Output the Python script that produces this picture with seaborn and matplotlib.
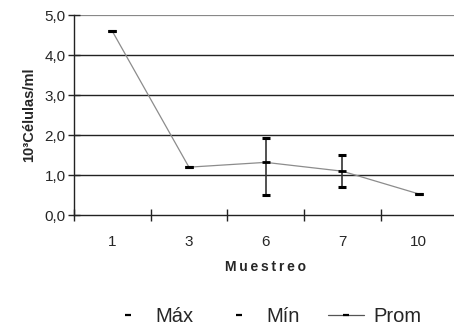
import matplotlib
matplotlib.use("Agg")
import matplotlib.pyplot as plt
from matplotlib.lines import Line2D
import numpy as np
import pandas as pd
import seaborn as sns

# Sampling campaigns and cell counts (10^3 cells/ml)
muestreo = ["1", "3", "6", "7", "10"]
prom = [4.6, 1.2, 1.32, 1.1, 0.53]
maximo = [4.6, 1.2, 1.94, 1.51, 0.53]
minimo = [4.6, 1.2, 0.50, 0.71, 0.53]

df = pd.DataFrame({"pos": np.arange(len(muestreo)), "Muestreo": muestreo,
                   "Prom": prom, "Máx": maximo, "Mín": minimo})

sns.set_theme(style="white")
plt.rcParams["font.family"] = ["Liberation Sans", "DejaVu Sans"]

fig = plt.figure(figsize=(4.54, 3.31), dpi=100)
ax = fig.add_axes([0.163, 0.350, 0.844, 0.604])

# horizontal grid
for yv in [1, 2, 3, 4]:
    ax.axhline(yv, color="#222222", lw=1.0, zorder=0)
ax.axhline(5, color="#888888", lw=1.6, zorder=0)

# high-low bars
ax.vlines(df["pos"], df["Mín"], df["Máx"], color="#333333", lw=1.2, zorder=2)

sns.lineplot(data=df, x="pos", y="Prom", ax=ax, color="#8c8c8c", lw=0.9,
             marker="_", markersize=6, markeredgewidth=2.0,
             markeredgecolor="black", zorder=3, legend=False)
sns.scatterplot(data=df, x="pos", y="Máx", ax=ax, marker="_", s=40,
                linewidth=2.2, color="black", zorder=4, legend=False)
sns.scatterplot(data=df, x="pos", y="Mín", ax=ax, marker="_", s=40,
                linewidth=2.2, color="black", zorder=4, legend=False)

ax.set_xlim(-0.5, len(muestreo) - 0.5)
ax.set_ylim(0, 5)
ax.set_xticks(np.arange(len(muestreo)))
ax.set_xticklabels(muestreo, fontsize=11)
ax.set_xticks(np.arange(len(muestreo) + 1) - 0.5, minor=True)
ax.tick_params(axis="x", which="major", length=0, pad=14)
ax.tick_params(axis="x", which="minor", length=9, width=1, color="#222222",
               direction="inout", bottom=True)
yt = [0, 1, 2, 3, 4, 5]
ax.set_yticks(yt)
ax.set_yticklabels([f"{v:.1f}".replace(".", ",") for v in yt], fontsize=11)
ax.tick_params(axis="y", length=8, width=1, color="#222222", direction="inout",
               left=True, pad=2)

for s in ["top", "right"]:
    ax.spines[s].set_visible(False)
ax.spines["left"].set_color("#222222")
ax.spines["bottom"].set_color("#222222")
ax.spines["left"].set_linewidth(1.0)
ax.spines["bottom"].set_linewidth(1.0)

ax.set_xlabel("\u2009".join("Muestreo"), fontsize=10, fontweight="bold", labelpad=8)
ax.set_ylabel("10³Células/ml", fontsize=10.5, fontweight="bold", labelpad=6)

handles = [
    Line2D([], [], ls="none", marker="_", color="black", markersize=5, markeredgewidth=1.6),
    Line2D([], [], ls="none", marker="_", color="black", markersize=5, markeredgewidth=1.6),
    Line2D([], [], color="#555555", lw=0.9, marker="_", markersize=4,
           markeredgewidth=1.6, markeredgecolor="black"),
]
fig.legend(handles, ["Máx", "Mín", "Prom"], loc="center", bbox_to_anchor=(0.585, 0.045),
           ncol=3, frameon=False, fontsize=14.5, handlelength=1.8, columnspacing=1.4,
           handletextpad=0.45)

fig.savefig("out.png", dpi=100)
